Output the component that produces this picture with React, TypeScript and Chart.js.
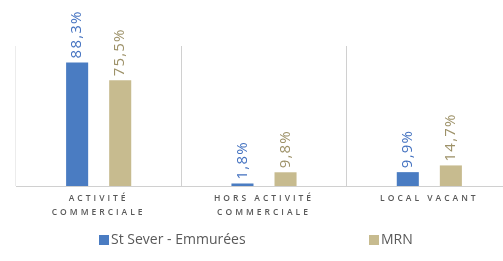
import React, { useEffect, useRef } from 'react';
import { Chart, registerables } from 'chart.js';

Chart.register(...registerables);

const categories: string[][] = [
  ['ACTIVITÉ', 'COMMERCIALE'],
  ['HORS ACTIVITÉ', 'COMMERCIALE'],
  ['LOCAL VACANT'],
];
const seriesNames = ['St Sever - Emmurées', 'MRN'];
const stSeverValues = [88.3, 1.8, 9.9];
const mrnValues = [75.5, 9.8, 14.7];
const barColors = ['#4a7cc2', '#c7bb8f'];
const labelColors = ['#4472c0', '#9d9168'];

const fmt = (v: number) => v.toFixed(1).replace('.', ',') + '%';

const valueLabels = {
  id: 'valueLabels',
  afterDatasetsDraw(chart: any) {
    const ctx = chart.ctx as CanvasRenderingContext2D;
    chart.data.datasets.forEach((ds: any, di: number) => {
      const meta = chart.getDatasetMeta(di);
      meta.data.forEach((bar: any, i: number) => {
        const v = ds.data[i] as number;
        ctx.save();
        ctx.translate(bar.x, bar.y - 4);
        ctx.rotate(-Math.PI / 2);
        ctx.font = '15px "Open Sans"';
        (ctx as any).letterSpacing = '1.2px';
        ctx.fillStyle = labelColors[di];
        ctx.textAlign = 'left';
        ctx.textBaseline = 'middle';
        ctx.fillText(fmt(v), 0, 0);
        ctx.restore();
      });
    });
  },
};

const tickSpacing = {
  id: 'tickSpacing',
  beforeDraw(chart: any) {
    (chart.ctx as any).letterSpacing = '3px';
  },
  beforeDatasetsDraw(chart: any) {
    (chart.ctx as any).letterSpacing = '0px';
  },
};

const legendItemX = [99, 369];

const customLegend = {
  id: 'customLegend',
  afterDraw(chart: any) {
    const ctx = chart.ctx as CanvasRenderingContext2D;
    const y = 240;
    chart.data.datasets.forEach((ds: any, di: number) => {
      const x = legendItemX[di];
      ctx.save();
      ctx.fillStyle = ds.backgroundColor;
      ctx.fillRect(x, y - 5, 10, 10);
      ctx.font = '14px "Open Sans"';
      (ctx as any).letterSpacing = '0px';
      ctx.fillStyle = '#595959';
      ctx.textAlign = 'left';
      ctx.textBaseline = 'middle';
      ctx.fillText(ds.label, x + 12, y);
      ctx.restore();
    });
  },
};

export default function App() {
  const ref = useRef<HTMLCanvasElement>(null);
  useEffect(() => {
    if (!ref.current) return;
    const chart = new Chart(ref.current, {
      type: 'bar',
      data: {
        labels: categories as any,
        datasets: [
          {
            label: seriesNames[0],
            data: stSeverValues,
            backgroundColor: barColors[0],
            barPercentage: 0.512,
            categoryPercentage: 0.521,
          },
          {
            label: seriesNames[1],
            data: mrnValues,
            backgroundColor: barColors[1],
            barPercentage: 0.512,
            categoryPercentage: 0.521,
          },
        ],
      },
      options: {
        animation: false,
        responsive: false,
        devicePixelRatio: 1,
        layout: { padding: { left: 16, right: 18, top: 46, bottom: 0 } },
        plugins: {
          legend: { display: false },
          tooltip: { enabled: false },
        },
        scales: {
          x: {
            offset: true,
            grid: {
              offset: true,
              drawTicks: false,
              color: (c: any) => (c.index === 0 ? '#ececec' : '#d0d0d0'),
            },
            border: { display: true, color: '#d0d0d0' },
            ticks: {
              color: '#585858',
              font: { family: 'Open Sans', size: 8.5, weight: 600 as any, lineHeight: 1.65 },
              padding: 6,
              maxRotation: 0,
              minRotation: 0,
              autoSkip: false,
            },
            afterFit: (s: any) => {
              s.height = 75;
            },
          },
          y: {
            display: false,
            min: 0,
            max: 100,
          },
        },
      },
      plugins: [tickSpacing, valueLabels, customLegend],
    });
    return () => chart.destroy();
  }, []);
  return (
    <div style={{ position: 'fixed', left: 0, top: 0, width: 503, height: 261, overflow: 'hidden', background: '#fff' }}>
      <canvas ref={ref} width={530} height={261} style={{ display: 'block' }} />
    </div>
  );
}
